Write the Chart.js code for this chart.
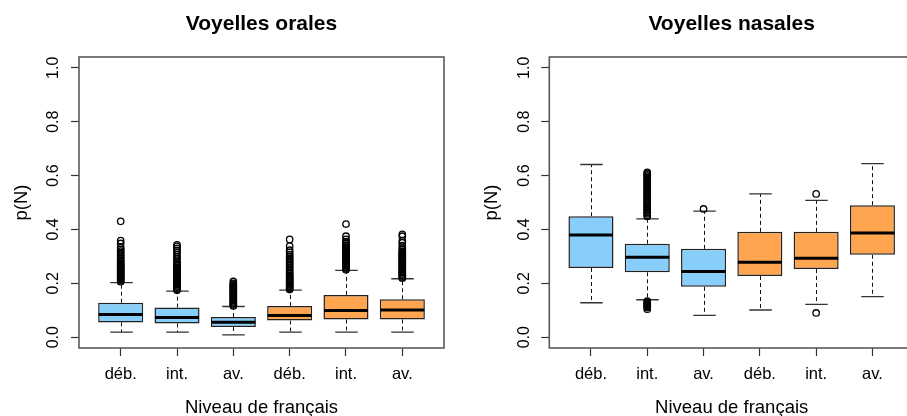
<!DOCTYPE html>
<html><head><meta charset="utf-8">
<script src="https://cdn.jsdelivr.net/npm/chart.js@4.4.1/dist/chart.umd.min.js"></script>
<style>
html,body{margin:0;padding:0;background:#fff;overflow:hidden;width:907px;height:416px;position:relative}
#ca{position:absolute;left:0;top:0}
#cb{position:absolute;left:453px;top:0}
</style></head>
<body>
<canvas id="ca" width="453" height="416"></canvas>
<canvas id="cb" width="470" height="416"></canvas>
<script>
// ---- data ----
const categories = ['déb.', 'int.', 'av.', 'déb.', 'int.', 'av.'];
const yTickValues = [0, 0.2, 0.4, 0.6, 0.8, 1.0];
const yTickLabels = ['0.0', '0.2', '0.4', '0.6', '0.8', '1.0'];
const boxColors = ['#87CEFA', '#87CEFA', '#87CEFA', '#FFA54F', '#FFA54F', '#FFA54F'];

// Voyelles orales
const oralesQ1  = [0.055, 0.051, 0.038, 0.062, 0.066, 0.066];
const oralesMed = [0.084, 0.073, 0.056, 0.081, 0.099, 0.101];
const oralesQ3  = [0.128, 0.110, 0.075, 0.116, 0.157, 0.141];
const oralesLo  = [0.019, 0.019, 0.009, 0.019, 0.019, 0.019];
const oralesHi  = [0.203, 0.171, 0.114, 0.175, 0.248, 0.217];
const oralesOut = [
  [0.206,0.210,0.214,0.218,0.222,0.226,0.230,0.234,0.238,0.242,0.246,0.250,0.254,0.258,0.262,0.266,0.270,0.275,0.280,0.285,0.290,0.296,0.302,0.308,0.314,0.320,0.326,0.333,0.348,0.359,0.430],
  [0.174,0.178,0.182,0.186,0.190,0.194,0.198,0.202,0.206,0.210,0.214,0.218,0.222,0.226,0.230,0.234,0.238,0.242,0.246,0.250,0.255,0.260,0.265,0.270,0.276,0.282,0.290,0.298,0.306,0.314,0.322,0.330,0.337,0.343],
  [0.116,0.120,0.124,0.128,0.132,0.136,0.140,0.144,0.148,0.152,0.156,0.160,0.164,0.168,0.172,0.176,0.180,0.184,0.188,0.192,0.196,0.200,0.207],
  [0.177,0.181,0.185,0.189,0.193,0.197,0.201,0.205,0.209,0.213,0.217,0.221,0.225,0.230,0.235,0.240,0.246,0.252,0.258,0.264,0.270,0.276,0.282,0.288,0.294,0.300,0.307,0.315,0.323,0.338,0.363],
  [0.250,0.254,0.258,0.262,0.266,0.270,0.274,0.278,0.282,0.286,0.290,0.294,0.298,0.302,0.306,0.310,0.314,0.318,0.322,0.326,0.330,0.334,0.338,0.342,0.348,0.355,0.363,0.375,0.420],
  [0.219,0.223,0.227,0.231,0.235,0.239,0.243,0.247,0.251,0.255,0.259,0.263,0.267,0.271,0.275,0.279,0.283,0.287,0.291,0.295,0.299,0.303,0.307,0.311,0.315,0.320,0.326,0.332,0.340,0.350,0.358,0.375,0.382]
];

// Voyelles nasales
const nasalesQ1  = [0.257, 0.241, 0.187, 0.227, 0.253, 0.306];
const nasalesMed = [0.379, 0.297, 0.244, 0.278, 0.293, 0.387];
const nasalesQ3  = [0.449, 0.347, 0.328, 0.391, 0.391, 0.490];
const nasalesLo  = [0.128, 0.139, 0.081, 0.101, 0.122, 0.151];
const nasalesHi  = [0.641, 0.439, 0.468, 0.532, 0.508, 0.644];
const nasalesOut = [
  [],
  [0.448,0.453,0.458,0.463,0.468,0.473,0.478,0.483,0.488,0.493,0.498,0.503,0.508,0.513,0.518,0.523,0.528,0.533,0.538,0.543,0.548,0.553,0.558,0.563,0.568,0.573,0.578,0.583,0.588,0.593,0.598,0.603,0.608,0.612,
   0.104,0.110,0.114,0.118,0.122,0.126,0.130,0.134],
  [0.476],
  [],
  [0.532, 0.090],
  []
];

// ---- drawing ----
const FONT = "'Liberation Sans', Arial, sans-serif";

const boxExtras = {
  id: 'boxExtras',
  beforeDatasetsDraw(chart) {
    const st = chart.options.plugins.boxExtras;
    const xs = chart.scales.x, ys = chart.scales.y;
    const bars = chart.getDatasetMeta(1).data;
    const ctx = chart.ctx;
    ctx.save();
    for (let i = 0; i < categories.length; i++) {
      const px = Math.round(xs.getPixelForValue(i + 1)) + 0.5;
      const w = bars[i].width;
      ctx.strokeStyle = '#111';
      ctx.lineWidth = 1;
      ctx.setLineDash([4, 3]);
      ctx.beginPath();
      ctx.moveTo(px, ys.getPixelForValue(st.q3[i]));
      ctx.lineTo(px, ys.getPixelForValue(st.hi[i]));
      ctx.moveTo(px, ys.getPixelForValue(st.q1[i]));
      ctx.lineTo(px, ys.getPixelForValue(st.lo[i]));
      ctx.stroke();
      ctx.setLineDash([]);
      ctx.strokeStyle = '#333';
      ctx.lineWidth = 1.3;
      ctx.beginPath();
      ctx.moveTo(px - w / 4, ys.getPixelForValue(st.hi[i]));
      ctx.lineTo(px + w / 4, ys.getPixelForValue(st.hi[i]));
      ctx.moveTo(px - w / 4, ys.getPixelForValue(st.lo[i]));
      ctx.lineTo(px + w / 4, ys.getPixelForValue(st.lo[i]));
      ctx.stroke();
    }
    ctx.restore();
  },
  afterDatasetsDraw(chart) {
    const st = chart.options.plugins.boxExtras;
    const xs = chart.scales.x, ys = chart.scales.y;
    const bars = chart.getDatasetMeta(1).data;
    const ctx = chart.ctx;
    ctx.save();
    ctx.strokeStyle = '#000';
    ctx.lineWidth = 3;
    for (let i = 0; i < categories.length; i++) {
      const px = xs.getPixelForValue(i + 1);
      const w = bars[i].width;
      const py = ys.getPixelForValue(st.med[i]);
      ctx.beginPath();
      ctx.moveTo(px - w / 2 + 0.5, py);
      ctx.lineTo(px + w / 2 - 0.5, py);
      ctx.stroke();
    }
    ctx.restore();
  },
  afterDraw(chart) {
    const a = chart.chartArea;
    const ctx = chart.ctx;
    ctx.save();
    ctx.strokeStyle = '#5a5a5a';
    ctx.lineWidth = 1.6;
    ctx.strokeRect(a.left, a.top, a.right - a.left, a.bottom - a.top);
    ctx.restore();
  }
};

function makeChart(id, title, q1, med, q3, lo, hi, out, geo) {
  const boxes = q1.map((v, i) => ({ x: i + 1, y: [v, q3[i]] }));
  const pts = out.flatMap((arr, i) => arr.map(v => ({ x: i + 1, y: v })));
  return new Chart(document.getElementById(id), {
    type: 'bar',
    data: {
      datasets: [
        {
          type: 'scatter', data: pts,
          pointRadius: 3.2, pointHoverRadius: 3.2, pointBorderWidth: 1.3,
          pointBorderColor: '#000', pointBackgroundColor: 'rgba(255,255,255,0)'
        },
        {
          type: 'bar', data: boxes,
          backgroundColor: boxColors, borderColor: '#222', borderWidth: 1.5,
          borderSkipped: false, barPercentage: 0.8, categoryPercentage: 1.0
        }
      ]
    },
    options: {
      responsive: false, animation: false, events: [],
      layout: { padding: { left: 0, right: geo.padRight, top: 0, bottom: 0 } },
      plugins: {
        legend: { display: false }, tooltip: { enabled: false },
        title: {
          display: true, text: title, fullSize: false, color: '#000',
          font: { family: FONT, size: 21, weight: 'bold', lineHeight: 1 },
          padding: { top: 13.7, bottom: 22.3 }
        },
        boxExtras: { q1, med, q3, lo, hi }
      },
      scales: {
        x: {
          type: 'linear', min: 0.26, max: 6.74, bounds: 'data', offset: false,
          afterBuildTicks: s => { s.ticks = categories.map((c, i) => ({ value: i + 1 })); },
          afterFit: s => { s.height = 68; },
          grid: { display: true, offset: false, drawOnChartArea: false, drawTicks: true, tickLength: 8, tickColor: '#333', tickWidth: 1.2 },
          border: { display: false },
          ticks: {
            callback: (v, i) => categories[i], autoSkip: false, maxRotation: 0,
            color: '#000', padding: 9, font: { family: FONT, size: 16.5 }
          },
          title: {
            display: true, text: 'Niveau de français', color: '#000',
            font: { family: FONT, size: 18.5, lineHeight: 1 }, padding: { top: 0, bottom: -1.5 }
          }
        },
        y: {
          type: 'linear', min: -0.04, max: 1.04, bounds: 'data',
          afterBuildTicks: s => { s.ticks = yTickValues.map(v => ({ value: v })); },
          afterFit: s => { s.width = geo.yWidth; },
          grid: { display: true, drawOnChartArea: false, drawTicks: true, tickLength: 8, tickColor: '#333', tickWidth: 1.2 },
          border: { display: false },
          ticks: {
            callback: (v, i) => yTickLabels[i], minRotation: 90, maxRotation: 90, crossAlign: 'center',
            color: '#000', padding: 6, font: { family: FONT, size: 16 }
          },
          title: {
            display: true, text: 'p(N)', color: '#000',
            font: { family: FONT, size: 18.5, lineHeight: 1 }, padding: { top: geo.yTitlePad, bottom: 0 }
          }
        }
      }
    },
    plugins: [boxExtras]
  });
}

makeChart('ca', 'Voyelles orales', oralesQ1, oralesMed, oralesQ3, oralesLo, oralesHi, oralesOut,
  { yWidth: 79, padRight: 9, yTitlePad: 12.75 });
makeChart('cb', 'Voyelles nasales', nasalesQ1, nasalesMed, nasalesQ3, nasalesLo, nasalesHi, nasalesOut,
  { yWidth: 96.3, padRight: 8.9, yTitlePad: 29.5 });
</script>
</body></html>
